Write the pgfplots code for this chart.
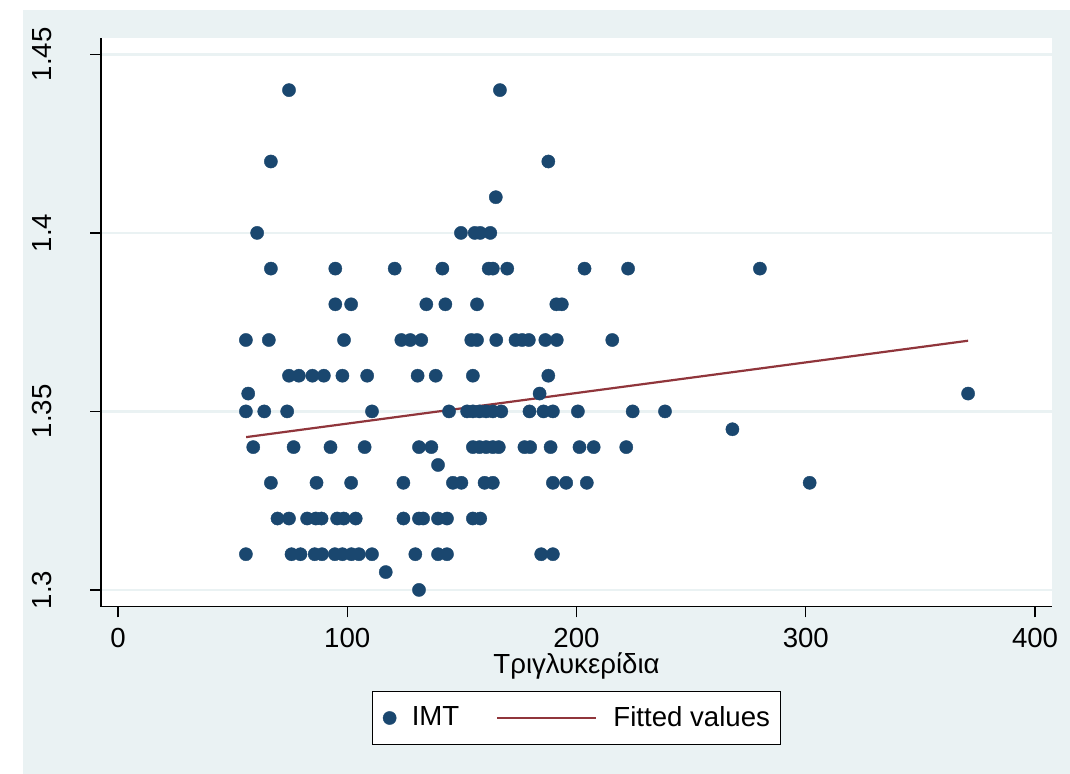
\documentclass[border=0pt]{standalone}
\usepackage{fontspec}
\setmainfont{Liberation Sans}
\usepackage{pgfplots}
\pgfplotsset{compat=1.18}
\definecolor{stbg}{RGB}{234,242,243}
\definecolor{stnavy}{RGB}{26,71,111}
\definecolor{stmaroon}{RGB}{144,53,59}
\pgfplotsset{
  dotlegend/.style={legend image code/.code={\draw[##1] plot coordinates {(0pt,0pt)};}},
  linelegend/.style={legend image code/.code={\draw[##1] (0pt,0pt) -- (49.5pt,0pt);}},
}
\begin{document}
\begin{tikzpicture}
\useasboundingbox (0,0) rectangle (535pt,387pt);
\fill[stbg] (11.5pt,0) rectangle (535pt,382pt);
\begin{axis}[
  at={(50.5pt,83.65pt)}, anchor=south west,
  scale only axis, width=475.5pt, height=284.35pt,
  xmin=-7.4, xmax=407.4, ymin=1.2953, ymax=1.4546,
  axis background/.style={fill=white},
  axis lines*=left, axis line style={-, black, line width=0.6pt},
  xtick={0,100,200,300,400}, ytick={1.3,1.35,1.4,1.45},
  yticklabels={1.3,1.35,1.4,1.45},
  tick align=outside, major tick length=5.3pt,
  tick style={black, line width=0.6pt},
  ymajorgrids, major grid style={stbg, line width=1.2pt},
  /pgf/number format/assume math mode=true,
  ticklabel style={font=\fontsize{13.8}{16}\selectfont},
  xticklabel style={anchor=north, inner sep=0pt},
  xticklabel shift=5.3pt,
  yticklabel style={rotate=90, anchor=south, inner sep=0pt},
  yticklabel shift=19.2pt,
  xlabel={Τριγλυκερίδια},
  xlabel style={font=\fontsize{13.8}{16}\selectfont, at={(axis description cs:0.5,-0.1166)}, anchor=base, inner sep=0pt},
  legend cell align=left,
  legend style={at={(0.5,-0.1957)}, anchor=center, legend columns=2,
    draw=black, line width=0.5pt, fill=white,
    inner xsep=5.25pt, inner ysep=7.5pt,
    font=\fontsize{13.8}{16}\selectfont,
    nodes={inner sep=0pt},
    /tikz/column 1/.style={column sep=7.75pt},
    /tikz/column 2/.style={column sep=18.5pt},
    /tikz/column 3/.style={column sep=8pt}},
]
\addplot[only marks, mark=*, mark size=3.3pt,
  mark options={fill=stnavy, draw=stnavy, line width=0.2pt}, dotlegend]
table {
x y
74.6 1.44
166.6 1.44
66.7 1.42
187.7 1.42
164.8 1.41
60.7 1.40
149.6 1.40
155.6 1.40
158.0 1.40
162.4 1.40
66.7 1.39
94.8 1.39
120.7 1.39
141.5 1.39
161.7 1.39
163.5 1.39
169.8 1.39
203.5 1.39
222.5 1.39
280.0 1.39
94.8 1.38
101.7 1.38
134.5 1.38
142.8 1.38
156.6 1.38
191.2 1.38
193.6 1.38
55.8 1.37
65.8 1.37
98.6 1.37
123.6 1.37
127.5 1.37
132.3 1.37
154.1 1.37
156.6 1.37
165.0 1.37
173.4 1.37
176.3 1.37
179.2 1.37
186.4 1.37
191.4 1.37
215.6 1.37
74.6 1.36
78.9 1.36
84.8 1.36
89.8 1.36
97.9 1.36
108.7 1.36
130.7 1.36
138.6 1.36
154.8 1.36
187.7 1.36
56.8 1.355
183.9 1.355
370.8 1.355
55.8 1.35
63.8 1.35
73.8 1.35
110.8 1.35
144.4 1.35
152.3 1.35
154.8 1.35
157.7 1.35
160.6 1.35
163.5 1.35
167.2 1.35
179.5 1.35
185.6 1.35
189.7 1.35
200.6 1.35
224.5 1.35
238.6 1.35
268.0 1.345
59.0 1.34
76.6 1.34
92.7 1.34
107.6 1.34
131.3 1.34
136.7 1.34
154.8 1.34
157.7 1.34
160.6 1.34
163.5 1.34
166.1 1.34
177.3 1.34
179.8 1.34
188.7 1.34
201.3 1.34
207.5 1.34
221.7 1.34
139.6 1.335
66.7 1.33
86.6 1.33
101.7 1.33
124.5 1.33
146.1 1.33
149.8 1.33
159.9 1.33
163.5 1.33
189.7 1.33
195.5 1.33
204.5 1.33
301.7 1.33
69.6 1.32
74.6 1.32
82.5 1.32
86.3 1.32
88.8 1.32
95.6 1.32
98.5 1.32
103.7 1.32
124.5 1.32
131.3 1.32
133.1 1.32
139.6 1.32
143.5 1.32
154.8 1.32
158.0 1.32
55.8 1.31
75.7 1.31
79.6 1.31
85.8 1.31
89.0 1.31
94.6 1.31
97.9 1.31
101.8 1.31
105.1 1.31
110.8 1.31
129.7 1.31
139.6 1.31
143.5 1.31
184.6 1.31
189.7 1.31
116.8 1.305
131.3 1.30
};
\addlegendentry{IMT}
\addplot[stmaroon, line width=1.1pt, linelegend]
table {
x y
55.9 1.3428
370.8 1.3698
};
\addlegendentry{Fitted values}
\end{axis}
\end{tikzpicture}
\end{document}
